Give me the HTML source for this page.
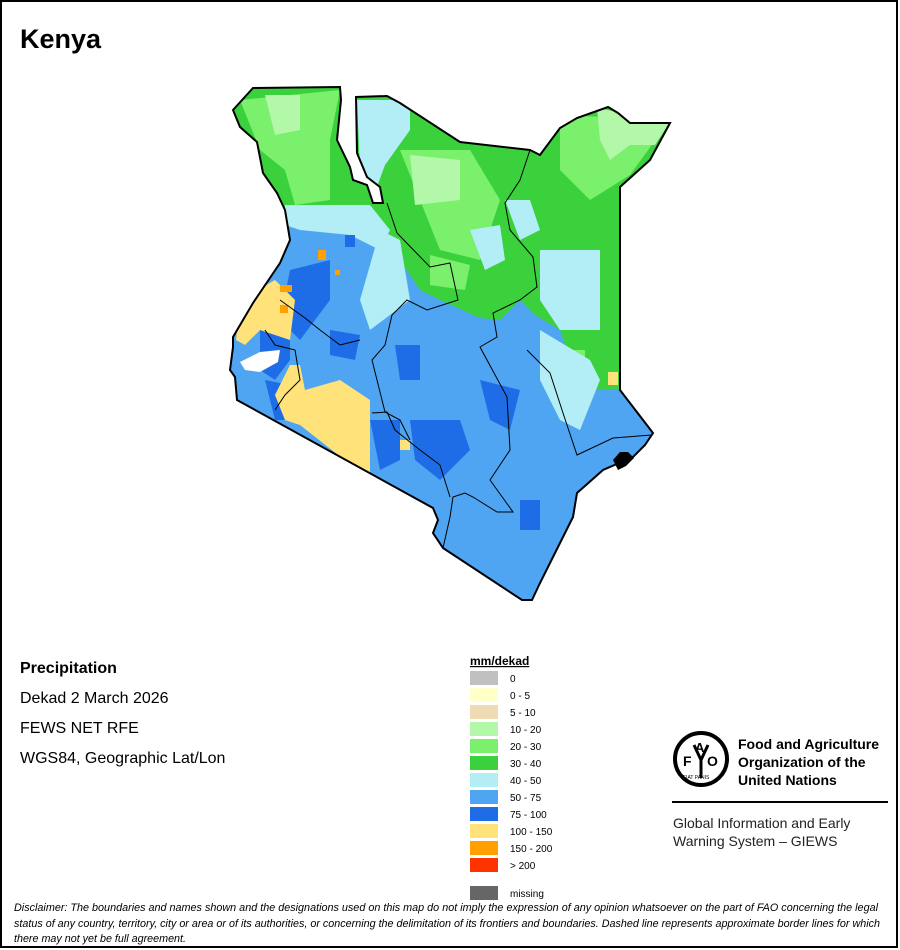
<!DOCTYPE html>
<html><head><meta charset="utf-8"><style>
html,body{margin:0;padding:0;background:#fff;}
svg{display:block;}
text{font-family:"Liberation Sans",sans-serif;}
</style></head><body>
<svg width="900" height="950" viewBox="0 0 900 950" xmlns="http://www.w3.org/2000/svg">
<rect x="0" y="0" width="900" height="950" fill="#fff"/>
<rect x="1" y="1" width="896" height="946" fill="none" stroke="#000" stroke-width="2"/>
<text x="20" y="48" font-size="27" font-weight="bold">Kenya</text>
<defs>
<clipPath id="k">
<path d="M233,110 L253,88 L340,87 L341,100 L337,140 L350,167 L353,180 L367,185 L373,203 L383,203 L380,187 L367,177 L357,153 L356,97 L387,96 L400,103 L460,142 L530,150 L540,155 L560,128 L577,118 L608,107 L618,113 L630,123 L670,123 L650,160 L620,187 L620,390 L653,433 L645,445 L633,457 L603,470 L577,493 L573,517 L553,557 L540,583 L532,600 L522,600 L443,548 L433,533 L438,520 L433,508 L237,400 L235,377 L230,370 L233,347 L233,337 L253,303 L280,263 L290,240 L285,210 L277,193 L263,173 L257,142 L240,127 Z"/>
</clipPath>
</defs>
<g clip-path="url(#k)">
<rect x="220" y="80" width="460" height="530" fill="#4fa5f2"/>
<path fill="#3ad13d" d="M220,80 L700,80 L700,390 L580,390 L560,330 L535,315 L520,300 L500,320 L480,318 L440,300 L420,290 L400,260 L380,220 L350,205 L300,210 L220,210 Z"/>
<path fill="#7af06c" d="M240,100 L340,90 L330,140 L330,200 L295,205 L285,170 L260,150 Z M400,150 L470,150 L500,200 L480,260 L440,250 L420,200 Z M560,115 L670,120 L630,175 L590,200 L560,170 Z M560,350 L585,350 L585,375 L560,375 Z M430,255 L470,265 L465,290 L430,285 Z"/>
<path fill="#b3f7a8" d="M265,95 L300,95 L300,130 L275,135 Z M410,155 L460,160 L460,200 L415,205 Z M597,108 L670,122 L655,145 L630,145 L610,160 L600,140 Z"/>
<path fill="#b3eef7" d="M285,205 L370,205 L390,230 L380,250 L350,235 L300,230 L285,225 Z M357,100 L410,100 L410,130 L385,165 L372,200 L360,170 Z M380,230 L400,240 L410,300 L370,330 L360,300 Z M540,250 L600,250 L600,330 L560,330 L540,300 Z M505,200 L530,200 L540,230 L520,240 Z M540,330 L590,360 L600,380 L580,430 L560,420 L540,380 Z M470,230 L500,225 L505,260 L485,270 Z"/>
<path fill="#1f6de6" d="M290,270 L330,260 L330,300 L300,340 L280,320 Z M260,330 L290,330 L290,360 L275,380 L260,370 Z M265,380 L290,385 L300,420 L275,420 Z M410,420 L460,420 L470,450 L440,480 L415,460 Z M370,420 L400,420 L400,460 L380,470 Z M480,380 L520,390 L510,430 L490,420 Z M330,330 L360,335 L355,360 L330,355 Z M395,345 L420,345 L420,380 L400,380 Z M520,500 L540,500 L540,530 L520,530 Z M345,235 L355,235 L355,247 L345,247 Z"/>
<path fill="#ffe37a" d="M240,300 L275,280 L295,300 L290,340 L260,330 L245,345 L236,340 Z M290,365 L300,365 L305,390 L340,380 L370,400 L370,480 L300,425 L285,420 L275,395 Z M400,440 L410,440 L410,450 L400,450 Z M608,372 L618,372 L618,385 L608,385 Z"/>
<path fill="#ff9f00" d="M318,250 L326,250 L326,260 L318,260 Z M280,285 L292,285 L292,292 L280,292 Z M280,305 L288,305 L288,313 L280,313 Z M335,270 L340,270 L340,275 L335,275 Z"/>
</g>
<path fill="#fff" d="M240,362 L260,352 L280,350 L278,362 L260,372 L245,370 Z"/>
<path fill="none" stroke="#000" stroke-width="2" d="M233,110 L253,88 L340,87 L341,100 L337,140 L350,167 L353,180 L367,185 L373,203 L383,203 L380,187 L367,177 L357,153 L356,97 L387,96 L400,103 L460,142 L530,150 L540,155 L560,128 L577,118 L608,107 L618,113 L630,123 L670,123 L650,160 L620,187 L620,390 L653,433 L645,445 L633,457 L603,470 L577,493 L573,517 L553,557 L540,583 L532,600 L522,600 L443,548 L433,533 L438,520 L433,508 L237,400 L235,377 L230,370 L233,347 L233,337 L253,303 L280,263 L290,240 L285,210 L277,193 L263,173 L257,142 L240,127 Z"/>
<g fill="none" stroke="#000" stroke-width="1">
<path d="M387,203 L397,233 L430,267 L450,263 L458,300 L427,310 L407,300 L392,315 L385,345 L372,360 L385,412 L400,420 L410,440"/>
<path d="M530,150 L520,180 L505,203 L510,230 L533,257 L537,287 L520,300 L493,313 L497,337 L480,347 L507,397 L510,450 L490,480 L513,512 L497,512 L473,497 L465,493 L453,497 L450,517 L443,548"/>
<path d="M527,350 L550,373 L563,413 L577,455 L613,438 L652,435"/>
<path d="M372,413 L387,412 L395,430 L420,450 L440,465 L450,497"/>
<path d="M265,330 L275,345 L295,350 L300,380 L285,395 L275,410"/>
<path d="M280,300 L305,318 L320,330 L340,345 L360,340"/>
</g>
<path fill="#000" d="M613,460 L620,452 L628,452 L634,458 L626,466 L618,470 Z"/>
<text x="20" y="673" font-size="16" font-weight="bold">Precipitation</text>
<text x="20" y="703" font-size="16">Dekad 2 March 2026</text>
<text x="20" y="733" font-size="16">FEWS NET RFE</text>
<text x="20" y="763" font-size="16">WGS84, Geographic Lat/Lon</text>
<text x="470" y="665" font-size="12" font-weight="bold" text-decoration="underline">mm/dekad</text>
<g font-size="10">
<rect x="470" y="671" width="28" height="14" fill="#c0c0c0"/><text x="510" y="682">0</text>
<rect x="470" y="688" width="28" height="14" fill="#ffffc8"/><text x="510" y="699">0 - 5</text>
<rect x="470" y="705" width="28" height="14" fill="#f0dcb4"/><text x="510" y="716">5 - 10</text>
<rect x="470" y="722" width="28" height="14" fill="#b3f7a8"/><text x="510" y="733">10 - 20</text>
<rect x="470" y="739" width="28" height="14" fill="#7af06c"/><text x="510" y="750">20 - 30</text>
<rect x="470" y="756" width="28" height="14" fill="#3ad13d"/><text x="510" y="767">30 - 40</text>
<rect x="470" y="773" width="28" height="14" fill="#b3eef7"/><text x="510" y="784">40 - 50</text>
<rect x="470" y="790" width="28" height="14" fill="#4fa5f2"/><text x="510" y="801">50 - 75</text>
<rect x="470" y="807" width="28" height="14" fill="#1f6de6"/><text x="510" y="818">75 - 100</text>
<rect x="470" y="824" width="28" height="14" fill="#ffe37a"/><text x="510" y="835">100 - 150</text>
<rect x="470" y="841" width="28" height="14" fill="#ff9f00"/><text x="510" y="852">150 - 200</text>
<rect x="470" y="858" width="28" height="14" fill="#ff3300"/><text x="510" y="869">&gt; 200</text>
<rect x="470" y="886" width="28" height="14" fill="#666"/><text x="510" y="897">missing</text>
</g>
<circle cx="701" cy="759" r="26" fill="none" stroke="#000" stroke-width="4"/>
<text x="683" y="766" font-size="14" font-weight="bold">F</text>
<text x="695" y="752" font-size="13" font-weight="bold">A</text>
<text x="707" y="766" font-size="14" font-weight="bold">O</text>
<path d="M701,760 L694,745 M701,760 L708,745 M701,760 L701,778" stroke="#000" stroke-width="3"/>
<text x="683" y="779" font-size="5">FIAT PANIS</text>
<g font-size="14" font-weight="bold">
<text x="738" y="749">Food and Agriculture</text>
<text x="738" y="767">Organization of the</text>
<text x="738" y="785">United Nations</text>
</g>
<rect x="672" y="801" width="216" height="2" fill="#000"/>
<g font-size="14" fill="#222">
<text x="673" y="828">Global Information and Early</text>
<text x="673" y="846">Warning System – GIEWS</text>
</g>
<g font-size="11" font-style="italic">
<text x="14" y="911" textLength="864" lengthAdjust="spacingAndGlyphs">Disclaimer: The boundaries and names shown and the designations used on this map do not imply the expression of any opinion whatsoever on the part of FAO concerning the legal</text>
<text x="14" y="927" textLength="866" lengthAdjust="spacingAndGlyphs">status of any country, territory, city or area or of its authorities, or concerning the delimitation of its frontiers and boundaries. Dashed line represents approximate border lines for which</text>
<text x="14" y="942" textLength="172" lengthAdjust="spacingAndGlyphs">there may not yet be full agreement.</text>
</g>
</svg>
</body></html>
